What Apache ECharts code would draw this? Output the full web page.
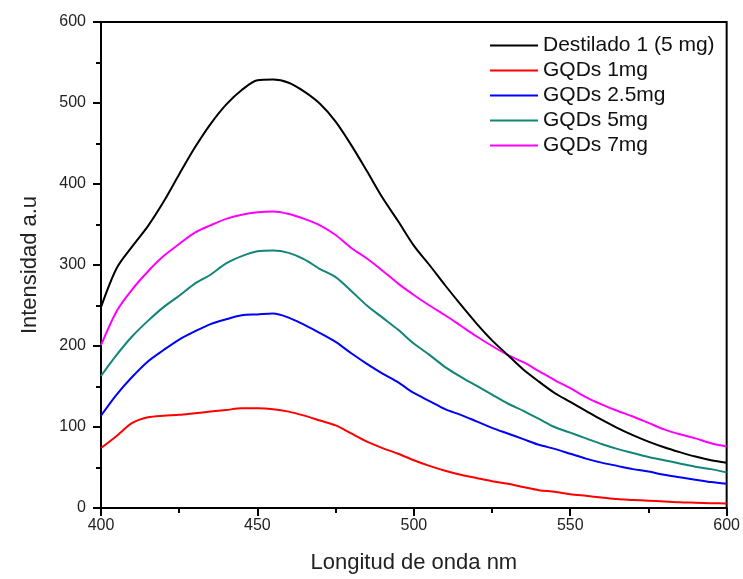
<!DOCTYPE html>
<html>
<head>
<meta charset="utf-8">
<style>
  html, body { margin: 0; padding: 0; background: #fff; }
  #chart { width: 743px; height: 579px; }
</style>
<script src="https://cdn.jsdelivr.net/npm/echarts@6/dist/echarts.min.js"></script>
</head>
<body>
<div id="chart"></div>
<script>
// Wavelength grid (nm), 5 nm steps
const wavelengths = [400,405,410,415,420,425,430,435,440,445,450,455,460,465,470,475,480,485,490,495,500,
                     505,510,515,520,525,530,535,540,545,550,555,560,565,570,575,580,585,590,595,600];

const seriesNames = ['Destilado 1 (5 mg)', 'GQDs 1mg', 'GQDs 2.5mg', 'GQDs 5mg', 'GQDs 7mg'];

// Emission intensities (a.u.)
const destilado = [248,296,323,348,378,412,445,474,498,516,528,529,525,514,499,477,448,416,383,354,324,
                   300,275,251,228,207,189,171,156,142,131,120,109,99,90,82,75,69,63.5,59,56];
const gqds1 = [74,89,105,112,114,115,117,119,121,123,123,122,119,114,108,102,92,82,74,67,59,
               52,46,41,37,33,30,26,22,20,17,15,13,11,10,9,8,7,6.5,6,5.5];
const gqds25 = [114,140,162,181,195,208,218,227,233,238,239,240,235,226,216,205,191,178,166,155,142,
                132,122,115,107,99,92,85,78,73,67,61,56,52,48,45,41,38,35,32,30];
const gqds5 = [163,189,212,231,248,262,277,288,302,311,317,318,315,307,295,285,268,250,235,220,203,
               189,174,162,151,140,129,120,110,100,93,86,79,73,68,63,59,55,51,48,44];
const gqds7 = [201,243,270,292,311,326,340,349,357,362,365,366,363,357,349,337,321,308,293,277,263,
               250,238,225,212,200,189,180,169,158,148,137,128,120,113,105,97,91,86,80,76];

const seriesValues = [destilado, gqds1, gqds25, gqds5, gqds7];
const seriesColors = ['#000000', '#ff0000', '#0000ff', '#128578', '#ff00ff'];

const xTicks = [400, 450, 500, 550, 600];
const yTicks = [0, 100, 200, 300, 400, 500, 600];

const font = '"Liberation Sans", Arial, sans-serif';

const chart = echarts.init(document.getElementById('chart'), null, { renderer: 'canvas' });

chart.setOption({
  animation: false,
  backgroundColor: '#ffffff',
  grid: {
    left: 101, right: 14, top: 22, bottom: 66,
    show: true, borderColor: '#000', borderWidth: 2, backgroundColor: 'transparent'
  },
  legend: {
    orient: 'vertical',
    left: 485, top: 30,
    itemWidth: 48, itemHeight: 2, itemGap: 4,
    icon: 'rect',
    textStyle: { fontFamily: font, fontSize: 21, color: '#111', lineHeight: 21 },
    data: seriesNames
  },
  xAxis: {
    type: 'value',
    min: xTicks[0], max: xTicks[xTicks.length - 1], interval: 50,
    name: 'Longitud de onda nm', nameLocation: 'middle', nameGap: 44,
    nameTextStyle: { fontFamily: font, fontSize: 22, color: '#222' },
    axisLine: { lineStyle: { color: '#000', width: 2 } },
    axisTick: { length: 8, lineStyle: { color: '#000', width: 2 } },
    minorTick: { show: true, splitNumber: 2, length: 5, lineStyle: { color: '#000', width: 2 } },
    axisLabel: { fontFamily: font, fontSize: 16, color: '#222', margin: 10 },
    splitLine: { show: false }
  },
  yAxis: {
    type: 'value',
    min: yTicks[0], max: yTicks[yTicks.length - 1], interval: 100,
    name: 'Intensidad a.u', nameLocation: 'middle', nameGap: 60,
    nameTextStyle: { fontFamily: font, fontSize: 22, color: '#222' },
    axisLine: { lineStyle: { color: '#000', width: 2 } },
    axisTick: { length: 8, lineStyle: { color: '#000', width: 2 } },
    minorTick: { show: true, splitNumber: 2, length: 5, lineStyle: { color: '#000', width: 2 } },
    axisLabel: { fontFamily: font, fontSize: 16, color: '#222', margin: 15 },
    splitLine: { show: false }
  },
  series: seriesNames.map((name, i) => ({
    name: name,
    type: 'line',
    data: wavelengths.map((w, j) => [w, seriesValues[i][j]]),
    showSymbol: false,
    smooth: 0.3,
    color: seriesColors[i],
    lineStyle: { color: seriesColors[i], width: 2 },
    z: 5 - i
  }))
});
</script>
</body>
</html>
